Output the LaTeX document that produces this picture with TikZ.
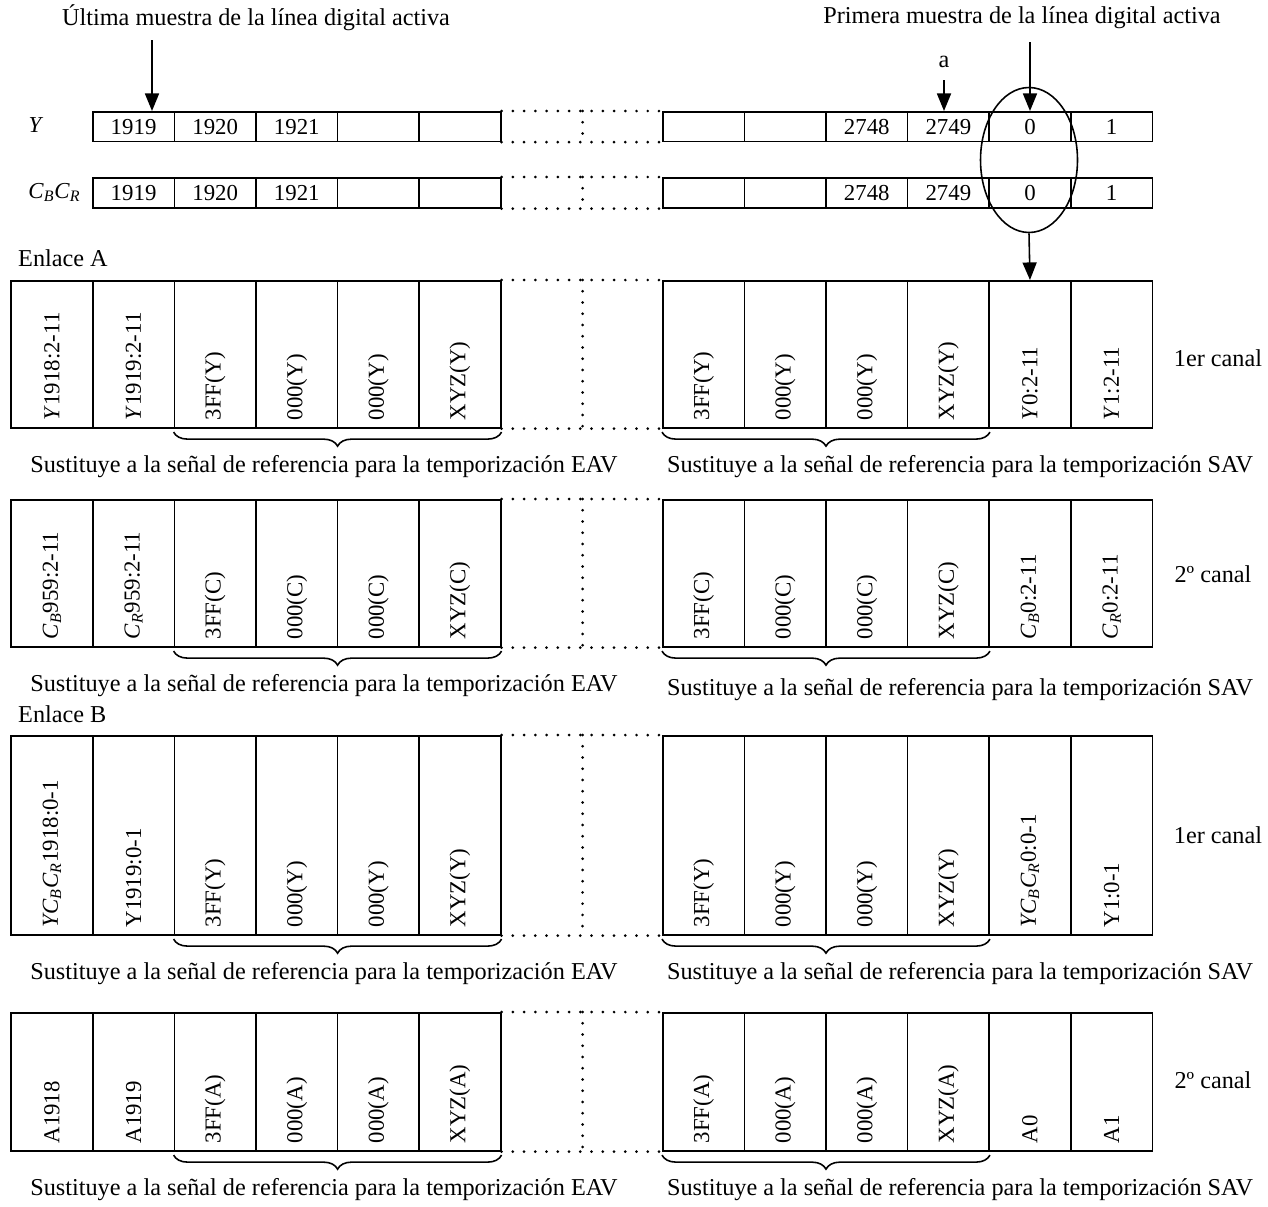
\documentclass[tikz,border=0pt]{standalone}
\usepackage{fontspec}
\setmainfont{Liberation Serif}
\usetikzlibrary{arrows.meta, calc, shapes.geometric, decorations.pathreplacing}

\tikzset{
    cell/.style={draw, line width=0.9pt, inner sep=0pt, anchor=north west, minimum width=1.632cm},
    celltext/.style={rotate=90, anchor=west, inner sep=0pt, font=\fontsize{13}{15}\selectfont},
    gap/.style={line width=1.7pt, dash pattern=on 0pt off 6.4pt, line cap=round},
    sub/.style={decorate, decoration={brace, mirror, amplitude=8pt}, line width=0.9pt},
    pointer/.style={line width=0.9pt, -{Triangle[length=10pt, width=8pt]}},
}
\newcommand{\chB}{\textit{C}\textsubscript{\textit{B}}}
\newcommand{\chR}{\textit{C}\textsubscript{\textit{R}}}
% one row of tall cells, text turned upright
\newcommand{\datarow}[5]{%
    \foreach \lab [count=\i] in {#5} {
        \node[cell, minimum height={#4*0.02cm}] (#1\i) at ({#2+(\i-1)*81.6}, #3) {};
        \node[celltext] at ([yshift=4.5pt]#1\i.south) {\lab};
    }}
% one row of flat sample cells
\newcommand{\samplerow}[5]{%
    \foreach \lab [count=\i] in {#5} {
        \node[cell, minimum height={#4*0.02cm}, text height=9pt, text depth=0pt,
            font=\fontsize{13}{15}\selectfont] (#1\i) at ({#2+(\i-1)*81.6}, #3) {\lab};
    }}

\begin{document}
\begin{tikzpicture}[x=0.02cm, y=-0.02cm, font=\fontsize{13.8}{16}\selectfont]
    \useasboundingbox (0,0) rectangle (1268,1207);

    % samples of the line
    \node (last) at (256,18) {Última muestra de la línea digital activa};
    \node (first) at (1022,18) {Primera muestra de la línea digital activa};
    \samplerow{YL}{92}{111}{29.5}{1919,1920,1921,{},{}}
    \samplerow{YR}{662}{111}{29.5}{{},{},2748,2749,0,1}
    \samplerow{CL}{92}{177}{30}{1919,1920,1921,{},{}}
    \samplerow{CR}{662}{177}{30}{{},{},2748,2749,0,1}
    \node at (36,125.5) {\fontsize{13}{15}\selectfont\textit{Y}};
    \node[anchor=east] at ([xshift=-3pt]CL1.west) {\fontsize{13}{15}\selectfont\chB\chR};

    \coordinate (lastpt) at (152,40);
    \draw[pointer] (lastpt) -- (lastpt |- YL1.north);
    \coordinate (firstpt) at (YR5.north |- 0,42);
    \draw[pointer] (firstpt) -- (YR5.north);
    \node (a) at (944,62) {a};
    \coordinate (apt) at (944,80);
    \draw[pointer] (apt) -- (apt |- YR4.north);

    \node[draw, ellipse, line width=0.9pt, minimum width=1.94cm, minimum height=2.9cm] (sel) at (1029,160) {};

    % link A
    \node[anchor=west] at (12,258) {Enlace A};
    \datarow{AaL}{10.4}{280}{147}{\textit{Y}1918:2-11,\textit{Y}1919:2-11,3FF(Y),000(Y),000(Y),XYZ(Y)}
    \datarow{AaR}{662}{280}{147}{3FF(Y),000(Y),000(Y),XYZ(Y),\textit{Y}0:2-11,\textit{Y}1:2-11}
    \datarow{AbL}{10.4}{499}{147}{\chB959:2-11,\chR959:2-11,3FF(C),000(C),000(C),XYZ(C)}
    \datarow{AbR}{662}{499}{147}{3FF(C),000(C),000(C),XYZ(C),\chB0:2-11,\chR0:2-11}
    \draw[pointer] (sel.south) -- (AaR5.north);

    % link B
    \node[anchor=west] at (12,714) {Enlace B};
    \datarow{BaL}{10.4}{735}{199}{\textit{YC}\textsubscript{\textit{B}}\textit{C}\textsubscript{\textit{R}}1918:0-1,Y1919:0-1,3FF(Y),000(Y),000(Y),XYZ(Y)}
    \datarow{BaR}{662}{735}{199}{3FF(Y),000(Y),000(Y),XYZ(Y),\textit{YC}\textsubscript{\textit{B}}\textit{C}\textsubscript{\textit{R}}0:0-1,Y1:0-1}
    \datarow{BbL}{10.4}{1012}{138}{A1918,A1919,3FF(A),000(A),000(A),XYZ(A)}
    \datarow{BbR}{662}{1012}{138}{3FF(A),000(A),000(A),XYZ(A),A0,A1}

    % dotted gaps between the two halves
    \foreach \r/\n in {YL/5, CL/5, AaL/6, AbL/6, BaL/6, BbL/6} {
        \draw[gap] (\r\n.north east) -- ($(\r\n.north east)+(162,0)$);
        \draw[gap] (\r\n.south east) -- ($(\r\n.south east)+(162,0)$);
        \draw[gap] ($(\r\n.north east)+(81,0)$) -- ($(\r\n.south east)+(81,0)$);
    }

    % braces and their notes
    \foreach \r/\ty/\ey in {Aa/467/467, Ab/686/690, Ba/974/974, Bb/1190/1190} {
        \draw[sub] ([yshift=-2pt]\r L3.south west) -- ([yshift=-2pt]\r L6.south east);
        \draw[sub] ([yshift=-2pt]\r R1.south west) -- ([yshift=-2pt]\r R4.south east);
        \node at (324,\ty) {Sustituye a la señal de referencia para la temporización EAV};
        \node at (960,\ey) {Sustituye a la señal de referencia para la temporización SAV};
    }

    \node at (1218,358) {1er canal};
    \node at (1213,574) {2º canal};
    \node at (1218,835) {1er canal};
    \node at (1213,1080) {2º canal};
\end{tikzpicture}
\end{document}
